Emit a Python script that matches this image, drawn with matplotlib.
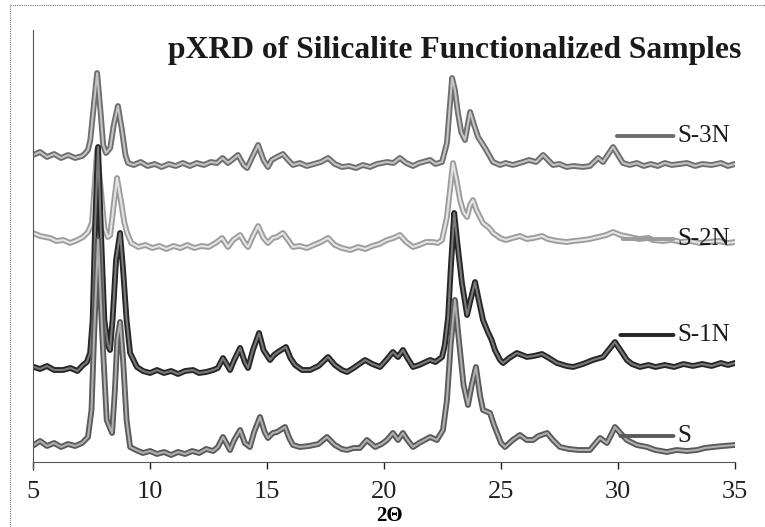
import numpy as np
import matplotlib
matplotlib.use("Agg")
import matplotlib.pyplot as plt
import matplotlib.patheffects as pe
from matplotlib.lines import Line2D

plt.rcParams["font.family"] = ["Liberation Serif", "DejaVu Serif"]

# stacked pXRD patterns, (2theta, intensity a.u.) including stacking offset
S_3N = [(5.0, 307), (5.3, 310), (5.6, 305), (5.9, 308), (6.2, 304), (6.5, 307), (6.8, 304), (7.1, 306),
        (7.2, 308), (7.35, 312), (7.45, 322), (7.6, 357), (7.74, 389), (7.88, 352), (8.0, 317), (8.12, 309),
        (8.3, 314), (8.45, 337), (8.63, 356), (8.8, 332), (8.95, 307), (9.06, 299), (9.3, 297), (9.6, 300),
        (9.9, 296), (10.2, 298), (10.5, 295), (10.8, 298), (11.1, 296), (11.4, 299), (11.7, 296), (12.0, 299),
        (12.3, 297), (12.6, 300), (12.86, 299), (13.1, 304), (13.33, 299), (13.5, 302), (13.76, 307),
        (14.0, 297), (14.15, 294), (14.35, 304), (14.62, 317), (14.85, 302), (15.04, 295), (15.2, 302),
        (15.43, 305), (15.68, 308), (15.9, 302), (16.11, 297), (16.4, 299), (16.7, 296), (17.0, 298),
        (17.3, 300), (17.61, 304), (17.9, 298), (18.2, 295), (18.5, 296), (18.8, 294), (19.1, 297),
        (19.4, 295), (19.7, 298), (20.13, 300), (20.4, 299), (20.68, 304), (20.95, 299), (21.24, 296),
        (21.5, 299), (21.97, 302), (22.2, 298), (22.48, 300), (22.69, 319), (22.8, 352), (22.91, 384),
        (23.03, 372), (23.16, 349), (23.3, 330), (23.46, 322), (23.68, 350), (23.85, 337), (24.02, 325),
        (24.32, 314), (24.66, 300), (24.96, 297), (25.2, 299), (25.5, 297), (25.94, 300), (26.2, 302),
        (26.5, 300), (26.8, 307), (27.22, 297), (27.5, 298), (27.8, 295), (28.1, 296), (28.5, 295),
        (28.8, 296), (29.15, 304), (29.36, 300), (29.79, 315), (30.0, 307), (30.21, 299), (30.5, 297),
        (30.8, 299), (31.1, 296), (31.4, 298), (31.7, 296), (32.0, 299), (32.3, 297), (32.95, 299),
        (33.3, 296), (33.6, 298), (34.0, 297), (34.4, 299), (34.7, 296), (35.0, 298)]

S_2N = [(5.0, 229), (5.3, 226), (5.73, 224), (6.0, 221), (6.3, 222), (6.58, 219), (6.9, 222), (7.14, 225),
        (7.35, 230), (7.52, 239), (7.62, 272), (7.74, 312), (7.9, 272), (8.05, 234), (8.2, 225), (8.3, 227),
        (8.45, 257), (8.59, 284), (8.75, 262), (8.9, 240), (9.02, 229), (9.2, 219), (9.5, 215), (9.8, 217),
        (10.1, 214), (10.4, 216), (10.7, 213), (11.0, 216), (11.3, 214), (11.6, 217), (11.9, 214),
        (12.2, 216), (12.5, 215), (12.8, 219), (13.08, 224), (13.33, 215), (13.55, 222), (13.85, 227),
        (14.05, 219), (14.19, 215), (14.4, 226), (14.62, 236), (14.85, 224), (15.04, 219), (15.25, 224),
        (15.43, 225), (15.68, 229), (15.9, 222), (16.11, 215), (16.4, 216), (16.7, 214), (17.0, 217),
        (17.3, 220), (17.61, 224), (17.9, 217), (18.2, 214), (18.55, 212), (18.9, 215), (19.2, 213),
        (19.5, 216), (19.8, 218), (20.13, 222), (20.4, 224), (20.68, 227), (20.95, 220), (21.24, 215),
        (21.5, 217), (21.8, 220), (22.09, 220), (22.3, 219), (22.48, 222), (22.69, 245), (22.82, 272),
        (22.95, 299), (23.1, 282), (23.25, 262), (23.4, 250), (23.55, 245), (23.68, 257), (23.8, 262),
        (23.95, 252), (24.23, 239), (24.5, 234), (24.66, 229), (24.96, 224), (25.2, 222), (25.5, 224),
        (25.81, 226), (26.1, 223), (26.4, 224), (26.75, 226), (27.0, 223), (27.4, 221), (27.82, 220),
        (28.1, 221), (28.5, 222), (28.8, 223), (29.15, 225), (29.5, 227), (29.79, 230), (30.1, 227),
        (30.51, 225), (30.9, 223), (31.3, 224), (31.5, 222), (31.9, 221), (32.3, 222), (32.7, 220),
        (33.1, 221), (33.5, 219), (33.9, 220), (34.3, 221), (34.7, 219), (35.0, 220)]

S_1N = [(5.04, 95), (5.3, 93), (5.6, 96), (5.9, 92), (6.28, 92), (6.6, 94), (6.9, 91), (7.14, 97),
        (7.3, 100), (7.44, 109), (7.55, 142), (7.65, 232), (7.78, 315), (7.9, 232), (8.05, 142), (8.2, 117),
        (8.29, 112), (8.4, 142), (8.55, 202), (8.72, 229), (8.85, 192), (9.0, 142), (9.15, 109), (9.44, 95),
        (9.7, 91), (10.0, 89), (10.3, 92), (10.6, 89), (10.9, 91), (11.2, 88), (11.5, 91), (11.84, 92),
        (12.1, 89), (12.4, 90), (12.7, 92), (12.9, 94), (13.12, 104), (13.42, 92), (13.6, 102), (13.85, 114),
        (14.05, 100), (14.19, 94), (14.4, 112), (14.66, 129), (14.85, 112), (15.13, 102), (15.3, 107),
        (15.47, 110), (15.81, 115), (16.0, 104), (16.2, 97), (16.5, 92), (16.84, 92), (17.2, 96),
        (17.61, 105), (17.9, 97), (18.2, 92), (18.42, 90), (18.7, 94), (19.19, 102), (19.5, 98), (19.83, 95),
        (20.1, 102), (20.38, 110), (20.6, 105), (20.81, 112), (21.0, 104), (21.24, 95), (21.5, 97),
        (21.97, 102), (22.2, 100), (22.48, 105), (22.6, 117), (22.74, 145), (22.85, 192), (23.0, 249),
        (23.12, 222), (23.33, 179), (23.55, 147), (23.7, 162), (23.89, 180), (24.05, 162), (24.23, 142),
        (24.44, 130), (24.6, 122), (24.74, 112), (24.96, 102), (25.09, 99), (25.35, 104), (25.68, 109),
        (26.11, 105), (26.4, 106), (26.75, 108), (27.05, 104), (27.39, 99), (27.8, 96), (28.08, 95),
        (28.5, 98), (28.93, 102), (29.36, 105), (29.6, 112), (29.87, 120), (30.1, 112), (30.38, 102),
        (30.6, 98), (30.94, 95), (31.3, 97), (31.6, 95), (32.0, 97), (32.4, 95), (32.8, 98), (33.2, 96),
        (33.6, 98), (34.0, 96), (34.4, 99), (34.7, 97), (35.0, 99)]

S_0 = [(5.04, 17), (5.3, 21), (5.6, 16), (5.9, 19), (6.2, 15), (6.5, 18), (6.8, 16), (7.1, 19), (7.35, 25),
       (7.5, 52), (7.62, 132), (7.78, 222), (7.95, 132), (8.15, 42), (8.38, 29), (8.5, 72), (8.6, 122),
       (8.72, 140), (8.85, 102), (9.0, 42), (9.15, 15), (9.4, 12), (9.7, 9), (10.0, 11), (10.3, 8),
       (10.6, 10), (10.9, 7), (11.2, 10), (11.5, 8), (11.8, 11), (12.1, 9), (12.4, 13), (12.7, 11),
       (12.9, 15), (13.12, 25), (13.42, 12), (13.6, 22), (13.85, 32), (14.05, 19), (14.27, 15), (14.45, 30),
       (14.7, 45), (14.9, 30), (15.04, 24), (15.25, 29), (15.43, 30), (15.77, 35), (15.95, 24), (16.11, 17),
       (16.4, 15), (16.8, 16), (17.2, 18), (17.56, 25), (17.9, 17), (18.2, 13), (18.42, 12), (18.7, 14),
       (18.97, 14), (19.27, 22), (19.62, 15), (19.9, 18), (20.13, 22), (20.38, 29), (20.6, 22), (20.81, 29),
       (21.0, 22), (21.24, 15), (21.5, 19), (21.97, 25), (22.26, 22), (22.52, 32), (22.69, 62), (22.85, 117),
       (23.03, 162), (23.2, 122), (23.4, 77), (23.59, 57), (23.75, 77), (23.93, 95), (24.1, 67), (24.23, 52),
       (24.53, 49), (24.7, 37), (24.87, 27), (25.0, 19), (25.17, 15), (25.5, 22), (25.81, 27), (26.1, 22),
       (26.37, 22), (26.6, 26), (26.97, 29), (27.22, 22), (27.52, 15), (27.9, 13), (28.3, 12), (28.8, 12),
       (29.23, 24), (29.53, 19), (29.87, 35), (30.1, 29), (30.38, 22), (30.8, 17), (31.24, 15), (31.6, 12),
       (32.09, 10), (32.5, 12), (32.95, 11), (33.38, 12), (33.7, 14), (34.06, 15), (34.5, 16), (35.0, 17)]

LABELS = ["S-3N", "S-2N", "S-1N", "S"]
# label anchor: (line start 2theta, level)
LABEL_POS = [(29.95, 326), (30.2, 223), (30.1, 127), (30.1, 26)]
XTICKS = [5, 10, 15, 20, 25, 30, 35]

# (outline, core) grey pairs give the doubled scanned-trace look
STYLES = [("#6e6e6e", "#c4c4c4"), ("#9c9c9c", "#e4e4e4"), ("#262626", "#7a7a7a"), ("#5a5a5a", "#b0b0b0")]

fig = plt.figure(figsize=(7.65, 5.27), dpi=100)
ax = fig.add_axes([33 / 765, 65 / 527, 702 / 765, 432 / 527])

for data, (edge, core) in zip([S_3N, S_2N, S_1N, S_0], STYLES):
    arr = np.array(data)
    ax.plot(arr[:, 0], arr[:, 1], color=core, lw=1.5, solid_joinstyle="round",
            path_effects=[pe.Stroke(linewidth=4.2, foreground=edge), pe.Normal()])

for name, (x0, y0), (edge, core) in zip(LABELS, LABEL_POS, STYLES):
    ax.annotate(name, xy=(x0, y0), xytext=(32.55, y0), fontsize=18, va="center", ha="left",
                color="#1a1a1a",
                arrowprops=dict(arrowstyle="-", color=edge, lw=2.8, shrinkA=1, shrinkB=0,
                                relpos=(0, 0.5)))

ax.set_xlim(5, 35)
ax.set_ylim(0, 432)
ax.set_xticks(XTICKS)
ax.set_yticks([])
ax.tick_params(axis="x", direction="out", length=5, width=1, pad=9, labelsize=19, colors="#222222")
for side in ["top", "right"]:
    ax.spines[side].set_visible(False)
ax.spines["left"].set_color("#555555")
ax.spines["bottom"].set_color("#555555")
ax.spines["left"].set_bounds(-8, 432)
ax.set_xlabel("2Θ", fontsize=15, fontweight="bold")
ax.xaxis.set_label_coords(0.508, -0.102)

fig.text(0.594, 0.905, "pXRD of Silicalite Functionalized Samples", ha="center", va="center",
         fontsize=22.8, fontweight="bold", color="#1a1a1a")

# dotted outer chart frame
fig.add_artist(Line2D([10 / 765, 10 / 765], [0, 1 - 5 / 527], transform=fig.transFigure,
                      color="#777777", lw=0.8, ls=(0, (1, 1))))
fig.add_artist(Line2D([10 / 765, 1], [1 - 5 / 527, 1 - 5 / 527], transform=fig.transFigure,
                      color="#777777", lw=0.8, ls=(0, (1, 1))))

fig.savefig("out.png", dpi=100)
